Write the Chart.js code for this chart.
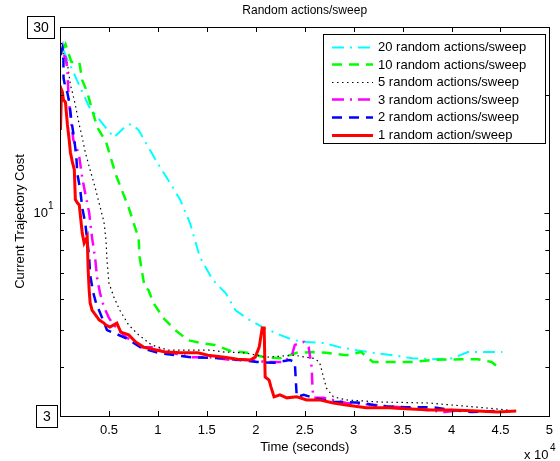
<!DOCTYPE html>
<html>
<head>
<meta charset="utf-8">
<script src="https://cdn.jsdelivr.net/npm/chart.js@4/dist/chart.umd.min.js"></script>
<style>
  html, body { margin: 0; padding: 0; background: #fff; }
  #wrap { width: 560px; height: 461px; }
</style>
</head>
<body>
<div id="wrap"><canvas id="c" width="560" height="461"></canvas></div>
<script>
// ---- Data (time in seconds, cost) ----
const seriesNames = [
  "20 random actions/sweep",
  "10 random actions/sweep",
  "5 random actions/sweep",
  "3 random actions/sweep",
  "2 random actions/sweep",
  "1 random action/sweep"
];

const t20 = [350, 760, 1260, 2170, 2980, 4290, 5500, 6720, 7320, 8030, 9040, 10050, 11260, 12270, 13280, 14290, 15610, 16920, 17930, 19340, 20860, 22470, 23890, 25200, 26920, 28530, 30250, 31970, 33990, 36010, 38030, 40050, 41670, 43390, 45200];
const c20 = [26.2, 24.7, 23.3, 20.7, 18.7, 17.0, 15.6, 16.7, 16.9, 16.3, 14.7, 13.3, 11.9, 10.8, 9.40, 7.69, 6.71, 6.21, 5.61, 5.30, 5.05, 4.85, 4.70, 4.65, 4.62, 4.51, 4.43, 4.36, 4.30, 4.22, 4.20, 4.22, 4.38, 4.38, 4.38];

const t10 = [250, 560, 1160, 1970, 2270, 2780, 3280, 3790, 4700, 5200, 5710, 6310, 7020, 7520, 8030, 8130, 8640, 9040, 9540, 10550, 11770, 13080, 14390, 15810, 17420, 19140, 20860, 22470, 24190, 25910, 27220, 29240, 30760, 31970, 33580, 36010, 38030, 41060, 42680, 44090, 45100];
const c10 = [26.2, 27.1, 24.4, 24.4, 21.9, 20.4, 18.4, 16.6, 15.2, 13.8, 12.5, 11.43, 10.3, 9.40, 8.60, 7.69, 6.44, 6.32, 5.86, 5.36, 4.99, 4.70, 4.62, 4.57, 4.41, 4.36, 4.25, 4.22, 4.36, 4.38, 4.36, 4.30, 4.38, 4.13, 4.13, 4.13, 4.18, 4.20, 4.20, 4.13, 3.94];

const t5 = [150, 350, 760, 1060, 1260, 1570, 1770, 1970, 2270, 2580, 3080, 3590, 3990, 4490, 4700, 4800, 5000, 5500, 6110, 7020, 8030, 9340, 11060, 13380, 15400, 16820, 18840, 21160, 23890, 25910, 26510, 26920, 27220, 27930, 29240, 32570, 37620, 42680, 45710];
const c5 = [27.3, 25.4, 24.2, 21.3, 20.4, 18.9, 17.8, 16.8, 15.6, 14.3, 12.87, 11.6, 10.6, 9.46, 8.50, 7.55, 6.59, 6.07, 5.61, 5.14, 4.85, 4.57, 4.43, 4.43, 4.43, 4.38, 4.36, 4.25, 4.30, 4.22, 4.13, 3.78, 3.54, 3.36, 3.30, 3.26, 3.24, 3.16, 3.11];

const t3 = [350, 560, 760, 860, 1060, 1360, 1770, 1970, 2270, 2580, 2980, 3280, 3590, 3790, 4090, 4490, 5000, 5500, 6720, 8330, 9340, 11060, 13380, 15100, 17420, 19140, 21160, 22880, 23690, 23990, 24900, 25400, 25710, 25810, 25910, 26920, 29240, 32270, 35300, 37320, 39340, 40900];
const c3 = [25.4, 25.1, 23.3, 20.1, 17.8, 15.4, 14.5, 13.9, 12.3, 11.2, 10.0, 8.60, 7.64, 6.79, 6.21, 5.72, 5.36, 5.14, 4.79, 4.51, 4.51, 4.38, 4.25, 4.25, 4.18, 4.18, 4.13, 4.13, 4.30, 4.57, 4.65, 4.51, 4.01, 3.50, 3.34, 3.34, 3.24, 3.20, 3.15, 3.11, 3.07, 3.11];

const t2 = [50, 250, 350, 360, 560, 760, 960, 1160, 1460, 1670, 1770, 2070, 2270, 2580, 2980, 3080, 3380, 3790, 3990, 4800, 6720, 8330, 10050, 11770, 13380, 16820, 20150, 21870, 23480, 23990, 24090, 24190, 24900, 25910, 27930, 29240, 30960, 32570, 35300, 38030, 40050, 42070, 44390];
const c2 = [25.4, 26.5, 24.7, 22.2, 20.9, 20.3, 19.1, 17.3, 15.4, 13.9, 12.6, 11.43, 10.3, 9.40, 7.69, 6.91, 6.25, 5.72, 5.61, 4.99, 4.76, 4.49, 4.36, 4.30, 4.25, 4.22, 4.13, 4.11, 4.18, 4.13, 3.71, 3.36, 3.40, 3.34, 3.26, 3.26, 3.24, 3.18, 3.16, 3.16, 3.11, 3.07, 3.09];

const t1 = [50, 150, 250, 350, 560, 760, 960, 1060, 1260, 1460, 1570, 1770, 1970, 2270, 2470, 2780, 2880, 2980, 3080, 3280, 3480, 3790, 3990, 4490, 4700, 5100, 5810, 6210, 7020, 7730, 8530, 9340, 10760, 12370, 14090, 15100, 16820, 18130, 19440, 19950, 20350, 20660, 20860, 20960, 21360, 21560, 21870, 22470, 23180, 24190, 25200, 26510, 27930, 29240, 31260, 33580, 35300, 38030, 40050, 42680, 44700, 46610];
const c1 = [16.3, 20.7, 20.4, 19.5, 19.2, 16.8, 15.2, 14.3, 13.5, 12.9, 10.8, 10.6, 10.46, 8.86, 8.35, 8.66, 7.11, 6.32, 5.86, 5.61, 5.52, 5.39, 5.30, 5.20, 5.14, 5.08, 5.20, 4.93, 4.85, 4.65, 4.51, 4.46, 4.38, 4.36, 4.36, 4.30, 4.25, 4.20, 4.18, 4.25, 4.51, 5.05, 5.05, 3.78, 3.71, 3.56, 3.36, 3.40, 3.34, 3.36, 3.30, 3.30, 3.24, 3.20, 3.15, 3.15, 3.13, 3.11, 3.11, 3.09, 3.07, 3.09];

const xTickValues = [5000, 10000, 15000, 20000, 25000, 30000, 35000, 40000, 45000, 50000];
const yMinorTicks = [3, 4, 5, 6, 7, 8, 9, 10, 20, 30];

// ---- build ----
function pts(t, c) { return t.map((x, i) => ({ x: x, y: c[i] })); }

const styles = [
  { color: '#00FFFF', width: 2,   dash: [12, 6, 2, 6] },
  { color: '#00FF00', width: 2.5, dash: [10, 7] },
  { color: '#000000', width: 1.2, dash: [1.5, 3.5] },
  { color: '#FF00FF', width: 2.5, dash: [12, 6, 2, 6] },
  { color: '#0000FF', width: 2.5, dash: [10, 7] },
  { color: '#FF0000', width: 3,   dash: [] }
];
const seriesData = [pts(t20, c20), pts(t10, c10), pts(t5, c5), pts(t3, c3), pts(t2, c2), pts(t1, c1)];

const datasets = seriesData.map((d, i) => ({
  label: seriesNames[i],
  data: d,
  borderColor: styles[i].color,
  borderWidth: styles[i].width,
  borderDash: styles[i].dash,
  pointRadius: 0,
  tension: 0,
  fill: false,
  order: 5 - i
}));

const FONT = '"Liberation Sans", Arial, Helvetica, sans-serif';

const decor = {
  id: 'decor',
  afterDraw(chart) {
    const ctx = chart.ctx;
    const a = chart.chartArea;
    const xs = chart.scales.x, ys = chart.scales.y;
    ctx.save();
    // box
    ctx.strokeStyle = '#000';
    ctx.lineWidth = 1;
    ctx.setLineDash([]);
    ctx.strokeRect(Math.round(a.left) + 0.5, Math.round(a.top) + 0.5, Math.round(a.right - a.left), Math.round(a.bottom - a.top));
    // x ticks (inward, bottom and top)
    ctx.beginPath();
    xTickValues.forEach(v => {
      const px = Math.round(xs.getPixelForValue(v)) + 0.5;
      ctx.moveTo(px, a.bottom); ctx.lineTo(px, a.bottom - 5);
      ctx.moveTo(px, a.top); ctx.lineTo(px, a.top + 5);
    });
    // y ticks (inward, left and right)
    yMinorTicks.forEach(v => {
      const py = Math.round(ys.getPixelForValue(v)) + 0.5;
      const len = (v === 10) ? 5 : 4;
      ctx.moveTo(a.left, py); ctx.lineTo(a.left + len, py);
      ctx.moveTo(a.right, py); ctx.lineTo(a.right - len, py);
    });
    ctx.stroke();

    ctx.fillStyle = '#000';
    // title
    ctx.font = '12px ' + FONT;
    ctx.textAlign = 'center';
    ctx.textBaseline = 'middle';
    ctx.fillText('Random actions/sweep', (a.left + a.right) / 2, 11);
    // x title
    ctx.font = '13px ' + FONT;
    ctx.fillText('Time (seconds)', (a.left + a.right) / 2, 447);
    // x 10^4
    ctx.textAlign = 'left';
    ctx.fillText('x 10', 524, 455);
    ctx.font = '10px ' + FONT;
    ctx.fillText('4', 550, 448);
    // y title
    ctx.save();
    ctx.translate(20, (a.top + a.bottom) / 2);
    ctx.rotate(-Math.PI / 2);
    ctx.font = '13px ' + FONT;
    ctx.textAlign = 'center';
    ctx.fillText('Current Trajectory Cost', 0, 0);
    ctx.restore();
    // y label 10^1
    const y10 = ys.getPixelForValue(10);
    ctx.font = '13px ' + FONT;
    ctx.textAlign = 'right';
    ctx.fillText('10', 48, y10 + 1);
    ctx.font = '10px ' + FONT;
    ctx.textAlign = 'left';
    ctx.fillText('1', 48, y10 - 6);
    // boxed 30 and 3
    function boxed(txt, x0, y0, w, h) {
      ctx.fillStyle = '#fff';
      ctx.fillRect(x0, y0, w, h);
      ctx.strokeStyle = '#000';
      ctx.lineWidth = 1;
      ctx.strokeRect(x0 + 0.5, y0 + 0.5, w, h);
      ctx.fillStyle = '#000';
      ctx.font = '14px ' + FONT;
      ctx.textAlign = 'center';
      ctx.textBaseline = 'middle';
      ctx.fillText(txt, x0 + w / 2 + 0.5, y0 + h / 2 + 1);
    }
    const y30 = ys.getPixelForValue(30), y3 = ys.getPixelForValue(3);
    boxed('30', 27, Math.round(y30) - 11, 27, 22);
    boxed('3', 36, Math.round(y3) - 11, 21, 22);

    // legend
    const L = { x: 323, y: 34, w: 222, h: 109 };
    ctx.fillStyle = '#fff';
    ctx.fillRect(L.x, L.y, L.w, L.h);
    ctx.strokeStyle = '#000';
    ctx.lineWidth = 1;
    ctx.setLineDash([]);
    ctx.strokeRect(L.x + 0.5, L.y + 0.5, L.w, L.h);
    ctx.font = '13px ' + FONT;
    ctx.textAlign = 'left';
    ctx.textBaseline = 'middle';
    seriesNames.forEach((name, i) => {
      const yy = 46.5 + i * 17.6;
      const s = styles[i];
      ctx.strokeStyle = s.color;
      ctx.lineWidth = s.width;
      ctx.setLineDash(s.dash);
      ctx.beginPath();
      ctx.moveTo(332, Math.round(yy) + 0.5);
      ctx.lineTo(373, Math.round(yy) + 0.5);
      ctx.stroke();
      ctx.setLineDash([]);
      ctx.fillStyle = '#000';
      ctx.fillText(name, 378, yy + 1);
    });
    ctx.restore();
  }
};

new Chart(document.getElementById('c'), {
  type: 'line',
  data: { datasets: datasets },
  options: {
    responsive: false,
    devicePixelRatio: 1,
    animation: false,
    layout: { padding: { left: 0, right: 5, top: 27, bottom: 0 } },
    plugins: { legend: { display: false }, tooltip: { enabled: false }, title: { display: false } },
    scales: {
      x: {
        type: 'linear',
        min: 0, max: 50000,
        afterFit: s => { s.height = 45; },
        afterBuildTicks: s => { s.ticks = [0].concat(xTickValues).map(v => ({ value: v })); },
        grid: { display: false, drawTicks: false },
        border: { display: false },
        ticks: {
          padding: 7,
          maxRotation: 0,
          autoSkip: false,
          color: '#000',
          font: { family: FONT, size: 13 },
          callback: v => v === 0 ? '' : String(v / 10000)
        }
      },
      y: {
        type: 'logarithmic',
        min: 3, max: 30,
        afterFit: s => { s.width = 60; },
        grid: { display: false, drawTicks: false },
        border: { display: false },
        ticks: { display: false }
      }
    }
  },
  plugins: [decor]
});
</script>
</body>
</html>
